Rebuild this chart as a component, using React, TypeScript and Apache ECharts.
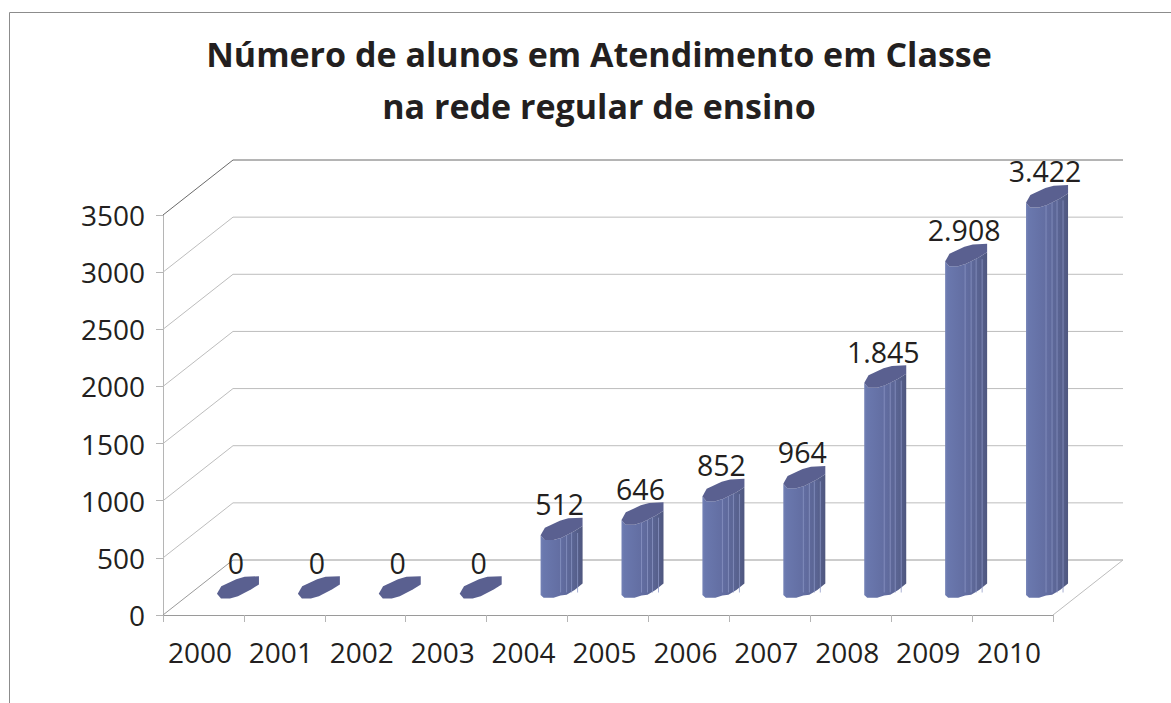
import React, { useEffect, useRef } from "react";
import * as echarts from "echarts";

const titleLines = ["Número de alunos em Atendimento em Classe", "na rede regular de ensino"];
const years = ["2000", "2001", "2002", "2003", "2004", "2005", "2006", "2007", "2008", "2009", "2010"];
const students = [0, 0, 0, 0, 512, 646, 852, 964, 1845, 2908, 3422];
const wallTicks = [0, 500, 1000, 1500, 2000, 2500, 3000, 3500];

const FONT = "'Open Sans', sans-serif";
const TEXT = "#231f20";
const DX = 70;
const DY = 55;
const TOP_RIM: number[][] = [[-21, 6.3], [-16.7, -1.3], [-1.7, -8.3], [6.7, -10.7], [21, -11.3], [21, -3], [13, 2], [0, 8.7], [-8, 11], [-17, 11]];
const UPPER_LOWER_RIM: number[][] = [[-21, 6.3], [-17, 11], [-8, 11], [0, 8.7], [13, 2], [21, -3]];
const BASE_RIM: number[][] = [[-21, 7.5], [-18, 10.3], [-8, 10.3], [-1, 8], [5, 7.3], [13, 2.5], [21, -4]];
const STRIPES = [-1, 5, 10, 16];

const fmt = (v: number) => String(v).replace(/\B(?=(\d{3})+$)/g, ".");

function renderWall(params: any, api: any) {
  const v = api.value(1);
  const [, y] = api.coord([0, v]);
  const cs = params.coordSys;
  const color = v === 3500 ? "#6a6a6a" : v === 0 ? "#9a9a9a" : "#bdbdbd";
  const children: any[] = [
    {
      type: "polyline",
      shape: { points: [[cs.x, y], [cs.x + DX, y - DY], [cs.x + cs.width + DX, y - DY]] },
      style: { stroke: color, fill: "none", lineWidth: 1 },
    },
  ];
  if (v === 0) {
    children.push({
      type: "line",
      shape: { x1: cs.x + cs.width, y1: y, x2: cs.x + cs.width + DX, y2: y - DY },
      style: { stroke: "#bdbdbd", lineWidth: 1 },
    });
  }
  return { type: "group", children };
}

function renderCylinder(_params: any, api: any) {
  const idx = api.value(0);
  const val = api.value(1);
  const [tx, ty] = api.coord([idx, val]);
  const [, by] = api.coord([idx, 0]);
  const cx = tx + DX / 2 - 0.5;
  const topY = ty - DY / 2;
  const baseY = by - DY / 2;
  const children: any[] = [];
  if (val > 0) {
    const body = [
      ...UPPER_LOWER_RIM.map(([a, b]) => [cx + a, topY + b]),
      ...BASE_RIM.slice().reverse().map(([a, b]) => [cx + a, baseY + b]),
    ];
    children.push({
      type: "polygon",
      shape: { points: body },
      style: {
        fill: new echarts.graphic.LinearGradient(0, 0, 1, 0, [
          { offset: 0, color: "#7482b6" },
          { offset: 0.06, color: "#6a78ae" },
          { offset: 0.5, color: "#626da1" },
          { offset: 0.8, color: "#596391" },
          { offset: 1, color: "#4f577f" },
        ]),
      },
    });
    for (const s of STRIPES) {
      children.push({
        type: "line",
        shape: { x1: cx + s, y1: topY + 4, x2: cx + s, y2: baseY + 5 },
        style: { stroke: "#8b96c4", lineWidth: 1, opacity: 0.75 },
      });
    }
  }
  children.push({
    type: "polygon",
    shape: { points: TOP_RIM.map(([a, b]) => [cx + a, topY + b]) },
    style: { fill: "#5a6090" },
  });
  children.push({
    type: "text",
    style: {
      x: cx - 2,
      y: topY - 25,
      text: fmt(val),
      fill: TEXT,
      font: `28.5px ${FONT}`,
      align: "center",
      verticalAlign: "middle",
    },
  });
  return { type: "group", children };
}

export default function App() {
  const ref = useRef<HTMLDivElement>(null);
  useEffect(() => {
    const chart = echarts.init(ref.current!, undefined, { renderer: "svg" });
    chart.setOption({
      animation: false,
      backgroundColor: "#fff",
      title: {
        text: titleLines.join("\n"),
        left: 594,
        top: 23,
        textAlign: "center",
        textStyle: { fontFamily: FONT, fontSize: 34, fontWeight: "bold", color: TEXT, lineHeight: 52 },
      },
      graphic: [
        {
          type: "polyline",
          shape: { points: [[9.5, 703], [9.5, 12.5], [1171, 12.5]] },
          style: { stroke: "#8c8c8c", fill: "none", lineWidth: 1 },
          silent: true,
        },
      ],
      grid: { left: 163, right: 118, top: 215, bottom: 88, containLabel: false },
      xAxis: {
        type: "category",
        data: years,
        boundaryGap: true,
        axisLine: { show: true, lineStyle: { color: "#9a9a9a" } },
        axisTick: { show: true, length: 7, alignWithLabel: false, lineStyle: { color: "#b5b5b5" } },
        axisLabel: {
          interval: 0,
          margin: 23,
          color: TEXT,
          fontFamily: FONT,
          fontSize: 28,
          padding: [0, 7, 0, 0],
        },
        splitLine: { show: false },
      },
      yAxis: {
        type: "value",
        min: 0,
        max: 3500,
        interval: 500,
        axisLine: { show: true, lineStyle: { color: "#b5b5b5" } },
        axisTick: { show: true, length: 7, lineStyle: { color: "#b5b5b5" } },
        axisLabel: {
          margin: 18,
          color: TEXT,
          fontFamily: FONT,
          fontSize: 28,
          padding: [10, 0, 0, 0],
          formatter: (v: number) => String(v),
        },
        splitLine: { show: false },
      },
      series: [
        {
          type: "custom",
          name: "wall",
          silent: true,
          clip: false,
          z: 1,
          renderItem: renderWall,
          data: wallTicks.map((v) => [0, v]),
          encode: { x: 0, y: 1 },
        },
        {
          type: "custom",
          name: "Alunos",
          silent: true,
          clip: false,
          z: 3,
          renderItem: renderCylinder,
          data: students.map((v, i) => [i, v]),
          encode: { x: 0, y: 1 },
        },
      ],
    });
    return () => chart.dispose();
  }, []);
  return <div ref={ref} style={{ position: "fixed", left: 0, top: 0, width: 1171, height: 703 }} />;
}
